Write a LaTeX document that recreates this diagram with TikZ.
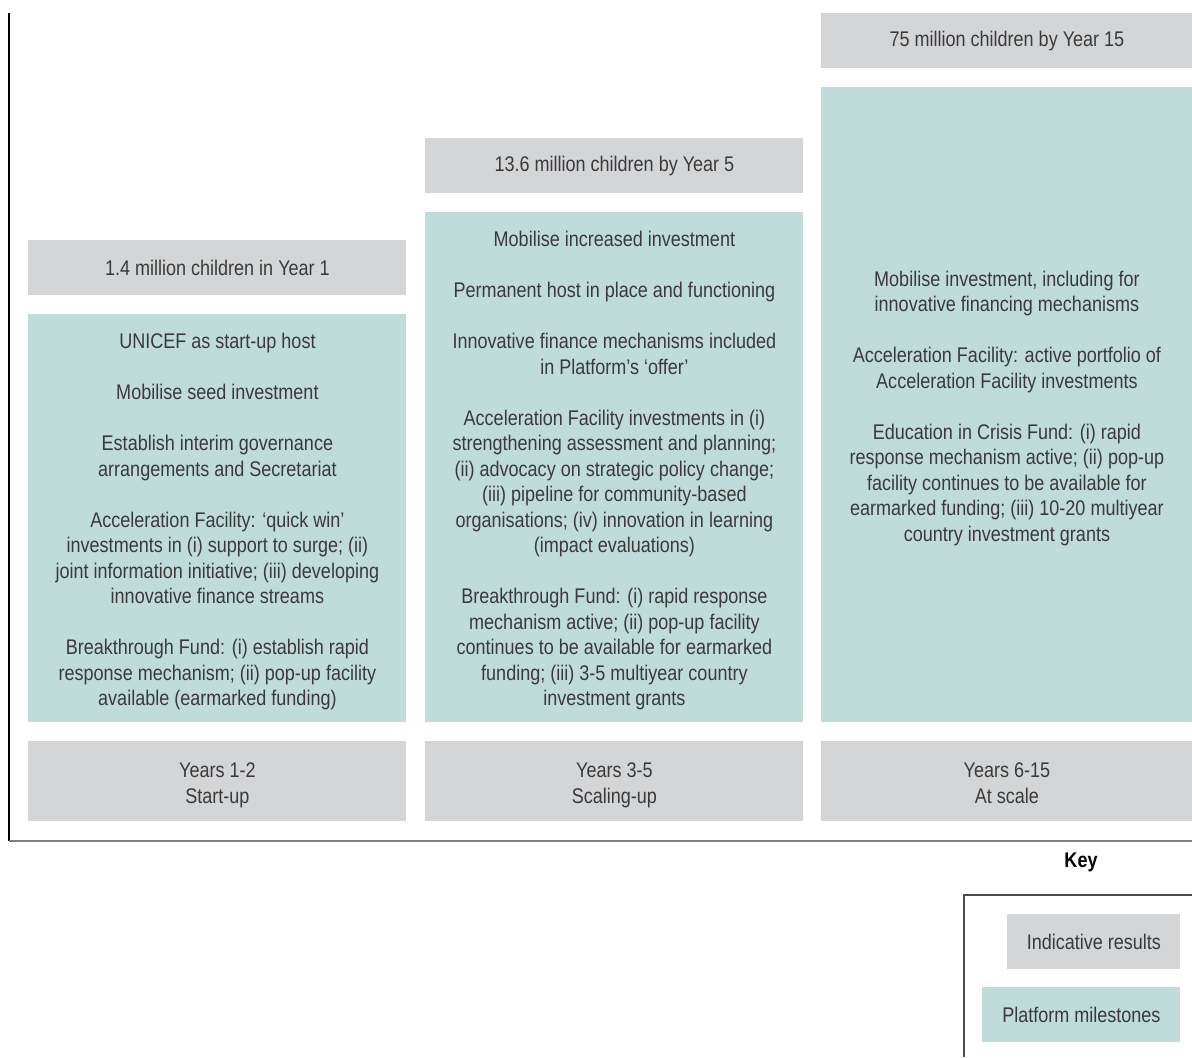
\documentclass[tikz,border=0pt]{standalone}
\usepackage{fontspec}
\setmainfont[FakeStretch=0.85]{Liberation Sans}
\usepackage{tikz}
\usetikzlibrary{positioning}

\definecolor{resgray}{HTML}{D4D5D7}
\definecolor{milteal}{HTML}{BFDBDA}
\definecolor{txtgray}{HTML}{3A3A3A}

% pushes the text of a box a little down
\newcommand{\padtop}{\rule{0pt}{12pt}}
\newcommand{\padbot}{\rule[-3pt]{0pt}{3pt}}

\begin{document}
\begin{tikzpicture}[x=0.5pt,y=-0.5pt,
	box/.style = {anchor=north west, inner sep=0pt, align=center, text=txtgray,
		font=\fontsize{10.6}{12.75}\selectfont},
	resbox/.style = {box, fill=resgray, minimum height=27.5pt},
	milbox/.style = {box, fill=milteal},
	keybox/.style = {box, fill=milteal, minimum height=27.5pt},
	yearbox/.style = {box, fill=resgray, minimum height=40pt}]
	\useasboundingbox (0,0) rectangle (1192,1057);
	%axes
	\coordinate (top) at (9,13);
	\coordinate (corner) at (9,841);
	\coordinate (right) at (1192,841);
	\draw[black, line width=0.6pt] (top) -- (corner);
	\draw[gray, line width=0.9pt] (corner) -- (right);
	
	%Years 1-2
	\node [resbox, minimum width=189pt] (res1) at (28,240) {1.4 million children in Year 1};
	\node [milbox, minimum width=189pt, minimum height=204pt] (mil1) at (28,314) {\padtop UNICEF as start-up host\\[12.75pt]
		Mobilise seed investment\\[12.75pt]
		Establish interim governance\\ arrangements and Secretariat\\[12.75pt]
		Acceleration Facility: ‘quick win’\\ investments in (i) support to surge; (ii)\\ joint information initiative; (iii) developing\\ innovative finance streams\\[12.75pt]
		Breakthrough Fund: (i) establish rapid\\ response mechanism; (ii) pop-up facility\\ available (earmarked funding)\padbot};
	\node [yearbox, minimum width=189pt] (year1) at (28,741) {\padtop Years 1-2\\ Start-up\padbot};
	
	%Years 3-5
	\node [resbox, minimum width=189pt] (res2) at (425,138) {13.6 million children by Year 5};
	\node [milbox, minimum width=189pt, minimum height=255pt] (mil2) at (425,212) {\padtop Mobilise increased investment\\[12.75pt]
		Permanent host in place and functioning\\[12.75pt]
		Innovative finance mechanisms included\\ in Platform’s ‘offer’\\[12.75pt]
		Acceleration Facility investments in (i)\\ strengthening assessment and planning;\\ (ii) advocacy on strategic policy change;\\ (iii) pipeline for community-based\\ organisations; (iv) innovation in learning\\ (impact evaluations)\\[12.75pt]
		Breakthrough Fund: (i) rapid response\\ mechanism active; (ii) pop-up facility\\ continues to be available for earmarked\\ funding; (iii) 3-5 multiyear country\\ investment grants\padbot};
	\node [yearbox, minimum width=189pt] (year2) at (425,741) {\padtop Years 3-5\\ Scaling-up\padbot};
	
	%Years 6-15
	\node [resbox, minimum width=185.5pt] (res3) at (821,13) {75 million children by Year 15};
	\node [milbox, minimum width=185.5pt, minimum height=317.5pt] (mil3) at (821,87) {\padtop Mobilise investment, including for\\ innovative financing mechanisms\\[12.75pt]
		Acceleration Facility: active portfolio of\\ Acceleration Facility investments\\[12.75pt]
		Education in Crisis Fund: (i) rapid\\ response mechanism active; (ii) pop-up\\ facility continues to be available for\\ earmarked funding; (iii) 10-20 multiyear\\ country investment grants\padbot};
	\node [yearbox, minimum width=185.5pt] (year3) at (821,741) {\padtop Years 6-15\\ At scale\padbot};
	
	%key
	\node [font=\fontsize{10.6}{12.75}\selectfont\bfseries] (key) at (1081,862) {Key};
	\coordinate (keybl) at (964,1057);
	\coordinate (keytl) at (964,895);
	\coordinate (keytr) at (1192,895);
	\draw[black!70, line width=0.6pt] (keybl) -- (keytl) -- (keytr);
	\node [resbox, minimum width=86.5pt] (keyres) at (1007,914) {Indicative results};
	\node [keybox, minimum width=99pt] (keymil) at (982,987) {Platform milestones};
\end{tikzpicture}
\end{document}
